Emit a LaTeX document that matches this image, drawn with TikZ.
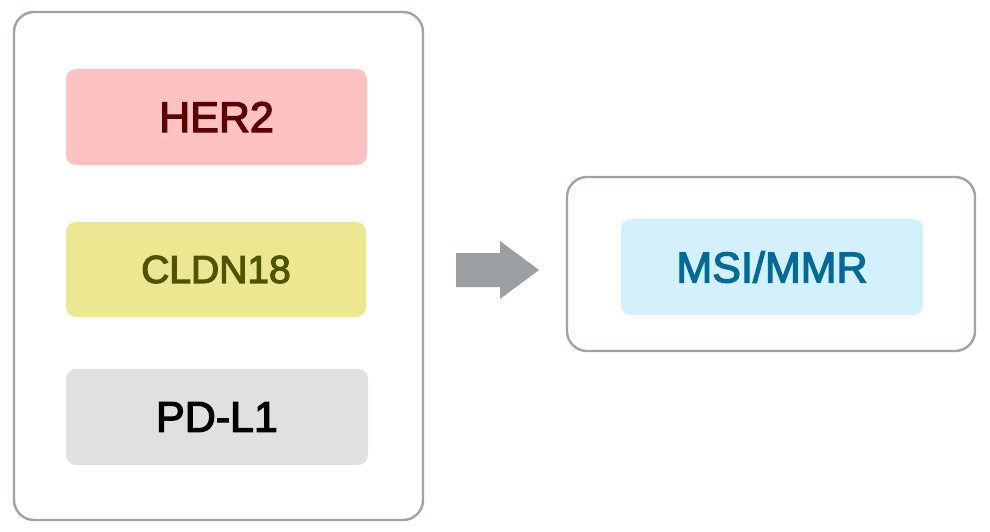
\documentclass[tikz,border=0pt]{standalone}
\usepackage{fontspec}
\setmainfont{Liberation Sans}
\newfontfamily\medsans{Liberation Sans}[FakeBold=3]
\definecolor{bordergray}{HTML}{9EA3A5}
\definecolor{arrowgray}{HTML}{9C9FA1}
\definecolor{herfill}{HTML}{FFC2C2}
\definecolor{hertext}{HTML}{5C0000}
\definecolor{clfill}{HTML}{ECE891}
\definecolor{cltext}{HTML}{4F5400}
\definecolor{pdfill}{HTML}{E0E0E0}
\definecolor{msifill}{HTML}{D5F0FD}
\definecolor{msitext}{HTML}{006A99}
\tikzset{
  group/.style={draw=bordergray, line width=2.4pt, rounded corners=20pt, fill=white},
  tag/.style={rounded corners=10pt, inner sep=0pt, font=\medsans\fontsize{43}{48}\selectfont},
}
\begin{document}
\begin{tikzpicture}[x=1pt,y=-1pt]
\useasboundingbox (0,0) rectangle (990,531);
\draw[group] (14,12) rectangle (423,520);
\draw[group] (567,177) rectangle (975,351);
\node[tag, fill=herfill, text=hertext, minimum width=301pt, minimum height=96pt] (her) at (216.5,117) {HER2};
\node[tag, fill=clfill, text=cltext, minimum width=300pt, minimum height=95pt, font=\medsans\fontsize{39}{44}\selectfont] (cl) at (216,269.5) {CLDN18};
\node[tag, fill=pdfill, text=black, minimum width=302pt, minimum height=96pt] (pd) at (217,417) {PD-L1};
\node[tag, fill=msifill, text=msitext, minimum width=302pt, minimum height=96pt] (msi) at (772,267) {MSI/MMR};
\fill[arrowgray] (456,253) -- (500,253) -- (500,241) -- (539,270) -- (500,299) -- (500,287) -- (456,287) -- cycle;
\end{tikzpicture}
\end{document}
